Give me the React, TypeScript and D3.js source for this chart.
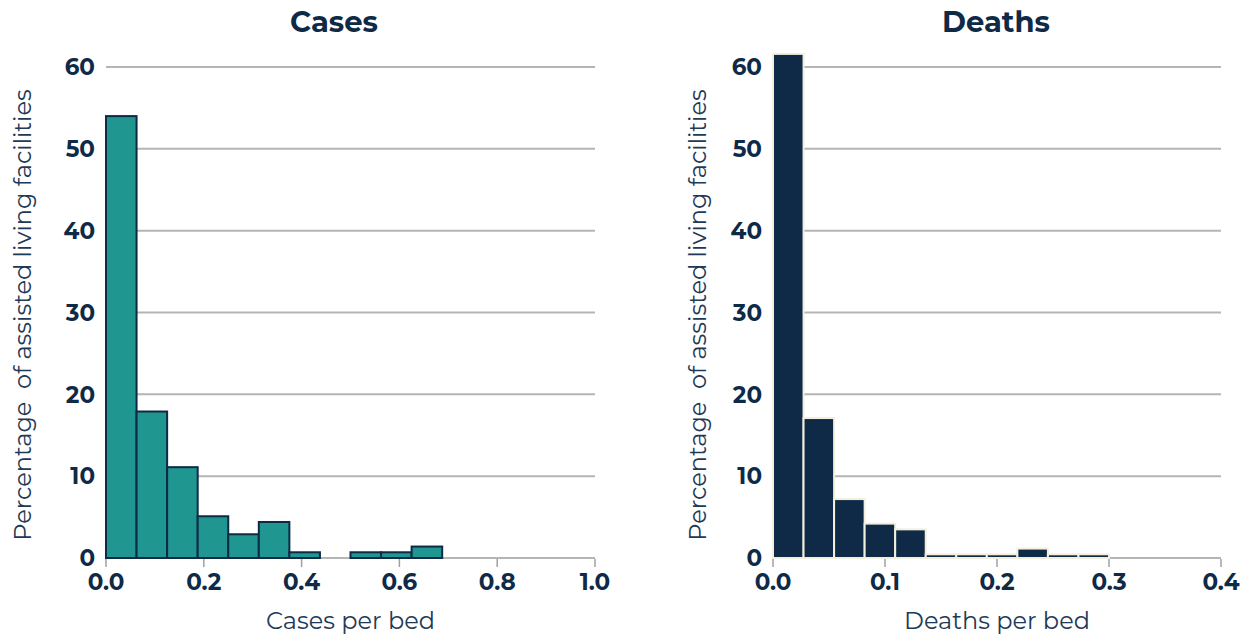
import React from "react";
import * as d3 from "d3";

const casesBinEdges = [0, 0.0625, 0.125, 0.1875, 0.25, 0.3125, 0.375, 0.4375, 0.5, 0.5625, 0.625, 0.6875];
const casesPct = [54.0, 17.9, 11.1, 5.1, 2.9, 4.4, 0.7, 0, 0.7, 0.7, 1.4];
const deathsBinEdges = [0, 0.02727, 0.05455, 0.08182, 0.10909, 0.13636, 0.16364, 0.19091, 0.21818, 0.24545, 0.27273, 0.3];
const deathsPct = [61.6, 17.1, 7.2, 4.2, 3.5, 0.45, 0.45, 0.45, 1.15, 0.45, 0.45];
const yTicks = [0, 10, 20, 30, 40, 50, 60];
const casesXTicks = [0, 0.2, 0.4, 0.6, 0.8, 1.0];
const deathsXTicks = [0, 0.1, 0.2, 0.3, 0.4];

const NAVY = "#0e2a47";
const TEAL = "#1f968f";
const FONT = "Montserrat, 'Open Sans', 'DejaVu Sans', sans-serif";

type PanelProps = {
  title: string;
  titleX: number;
  xLabel: string;
  edges: number[];
  values: number[];
  xTicks: number[];
  xMax: number;
  left: number;
  right: number;
  fill: string;
  stroke: string;
  yLabelX: number;
};

function Panel(p: PanelProps) {
  const x = d3.scaleLinear().domain([0, p.xMax]).range([p.left, p.right]);
  const y = d3.scaleLinear().domain([0, 60]).range([558, 67]);
  const fmt = d3.format(".1f");
  return (
    <g>
      <text x={p.titleX} y={32} textAnchor="middle" fontFamily={FONT} fontWeight={700} fontSize={29} fill={NAVY}>
        {p.title}
      </text>
      {yTicks.map((t) => (
        <g key={t}>
          <line x1={p.left} x2={p.right} y1={y(t)} y2={y(t)} stroke="#b5b5b5" strokeWidth={2} />
          <text x={p.left - 11} y={y(t)} dy="0.36em" textAnchor="end" fontFamily={FONT} fontWeight={700} fontSize={23} fill={NAVY}>
            {t}
          </text>
        </g>
      ))}
      {p.xTicks.map((t) => (
        <g key={t}>
          <line x1={x(t)} x2={x(t)} y1={559} y2={567} stroke="#a0a0a0" strokeWidth={1.5} />
          <text x={x(t)} y={590} textAnchor="middle" fontFamily={FONT} fontWeight={700} fontSize={23} fill={NAVY}>
            {fmt(t)}
          </text>
        </g>
      ))}
      {p.values.map((v, i) =>
        v > 0 ? (
          <rect
            key={i}
            x={x(p.edges[i])}
            y={y(v)}
            width={x(p.edges[i + 1]) - x(p.edges[i])}
            height={y(0) - y(v)}
            fill={p.fill}
            stroke={p.stroke}
            strokeWidth={2}
          />
        ) : null
      )}
      <text x={(p.left + p.right) / 2} y={629} textAnchor="middle" fontFamily={FONT} fontSize={24} fill="#1f3a56">
        {p.xLabel}
      </text>
      <text
        transform={`translate(${p.yLabelX},315) rotate(-90)`}
        textAnchor="middle"
        fontFamily={FONT}
        fontSize={24}
        fill="#1f3a56"
        style={{ whiteSpace: "pre" }}
      >
        {"Percentage  of assisted living facilities"}
      </text>
    </g>
  );
}

export default function App() {
  return (
    <svg width={1251} height={635} style={{ position: "absolute", left: 0, top: 0, background: "#fff" }}>
      <Panel
        title="Cases"
        titleX={334}
        xLabel="Cases per bed"
        edges={casesBinEdges}
        values={casesPct}
        xTicks={casesXTicks}
        xMax={1.0}
        left={106}
        right={595}
        fill={TEAL}
        stroke={NAVY}
        yLabelX={31}
      />
      <Panel
        title="Deaths"
        titleX={996}
        xLabel="Deaths per bed"
        edges={deathsBinEdges}
        values={deathsPct}
        xTicks={deathsXTicks}
        xMax={0.4}
        left={773}
        right={1221}
        fill={NAVY}
        stroke="#f3eedd"
        yLabelX={706}
      />
    </svg>
  );
}
